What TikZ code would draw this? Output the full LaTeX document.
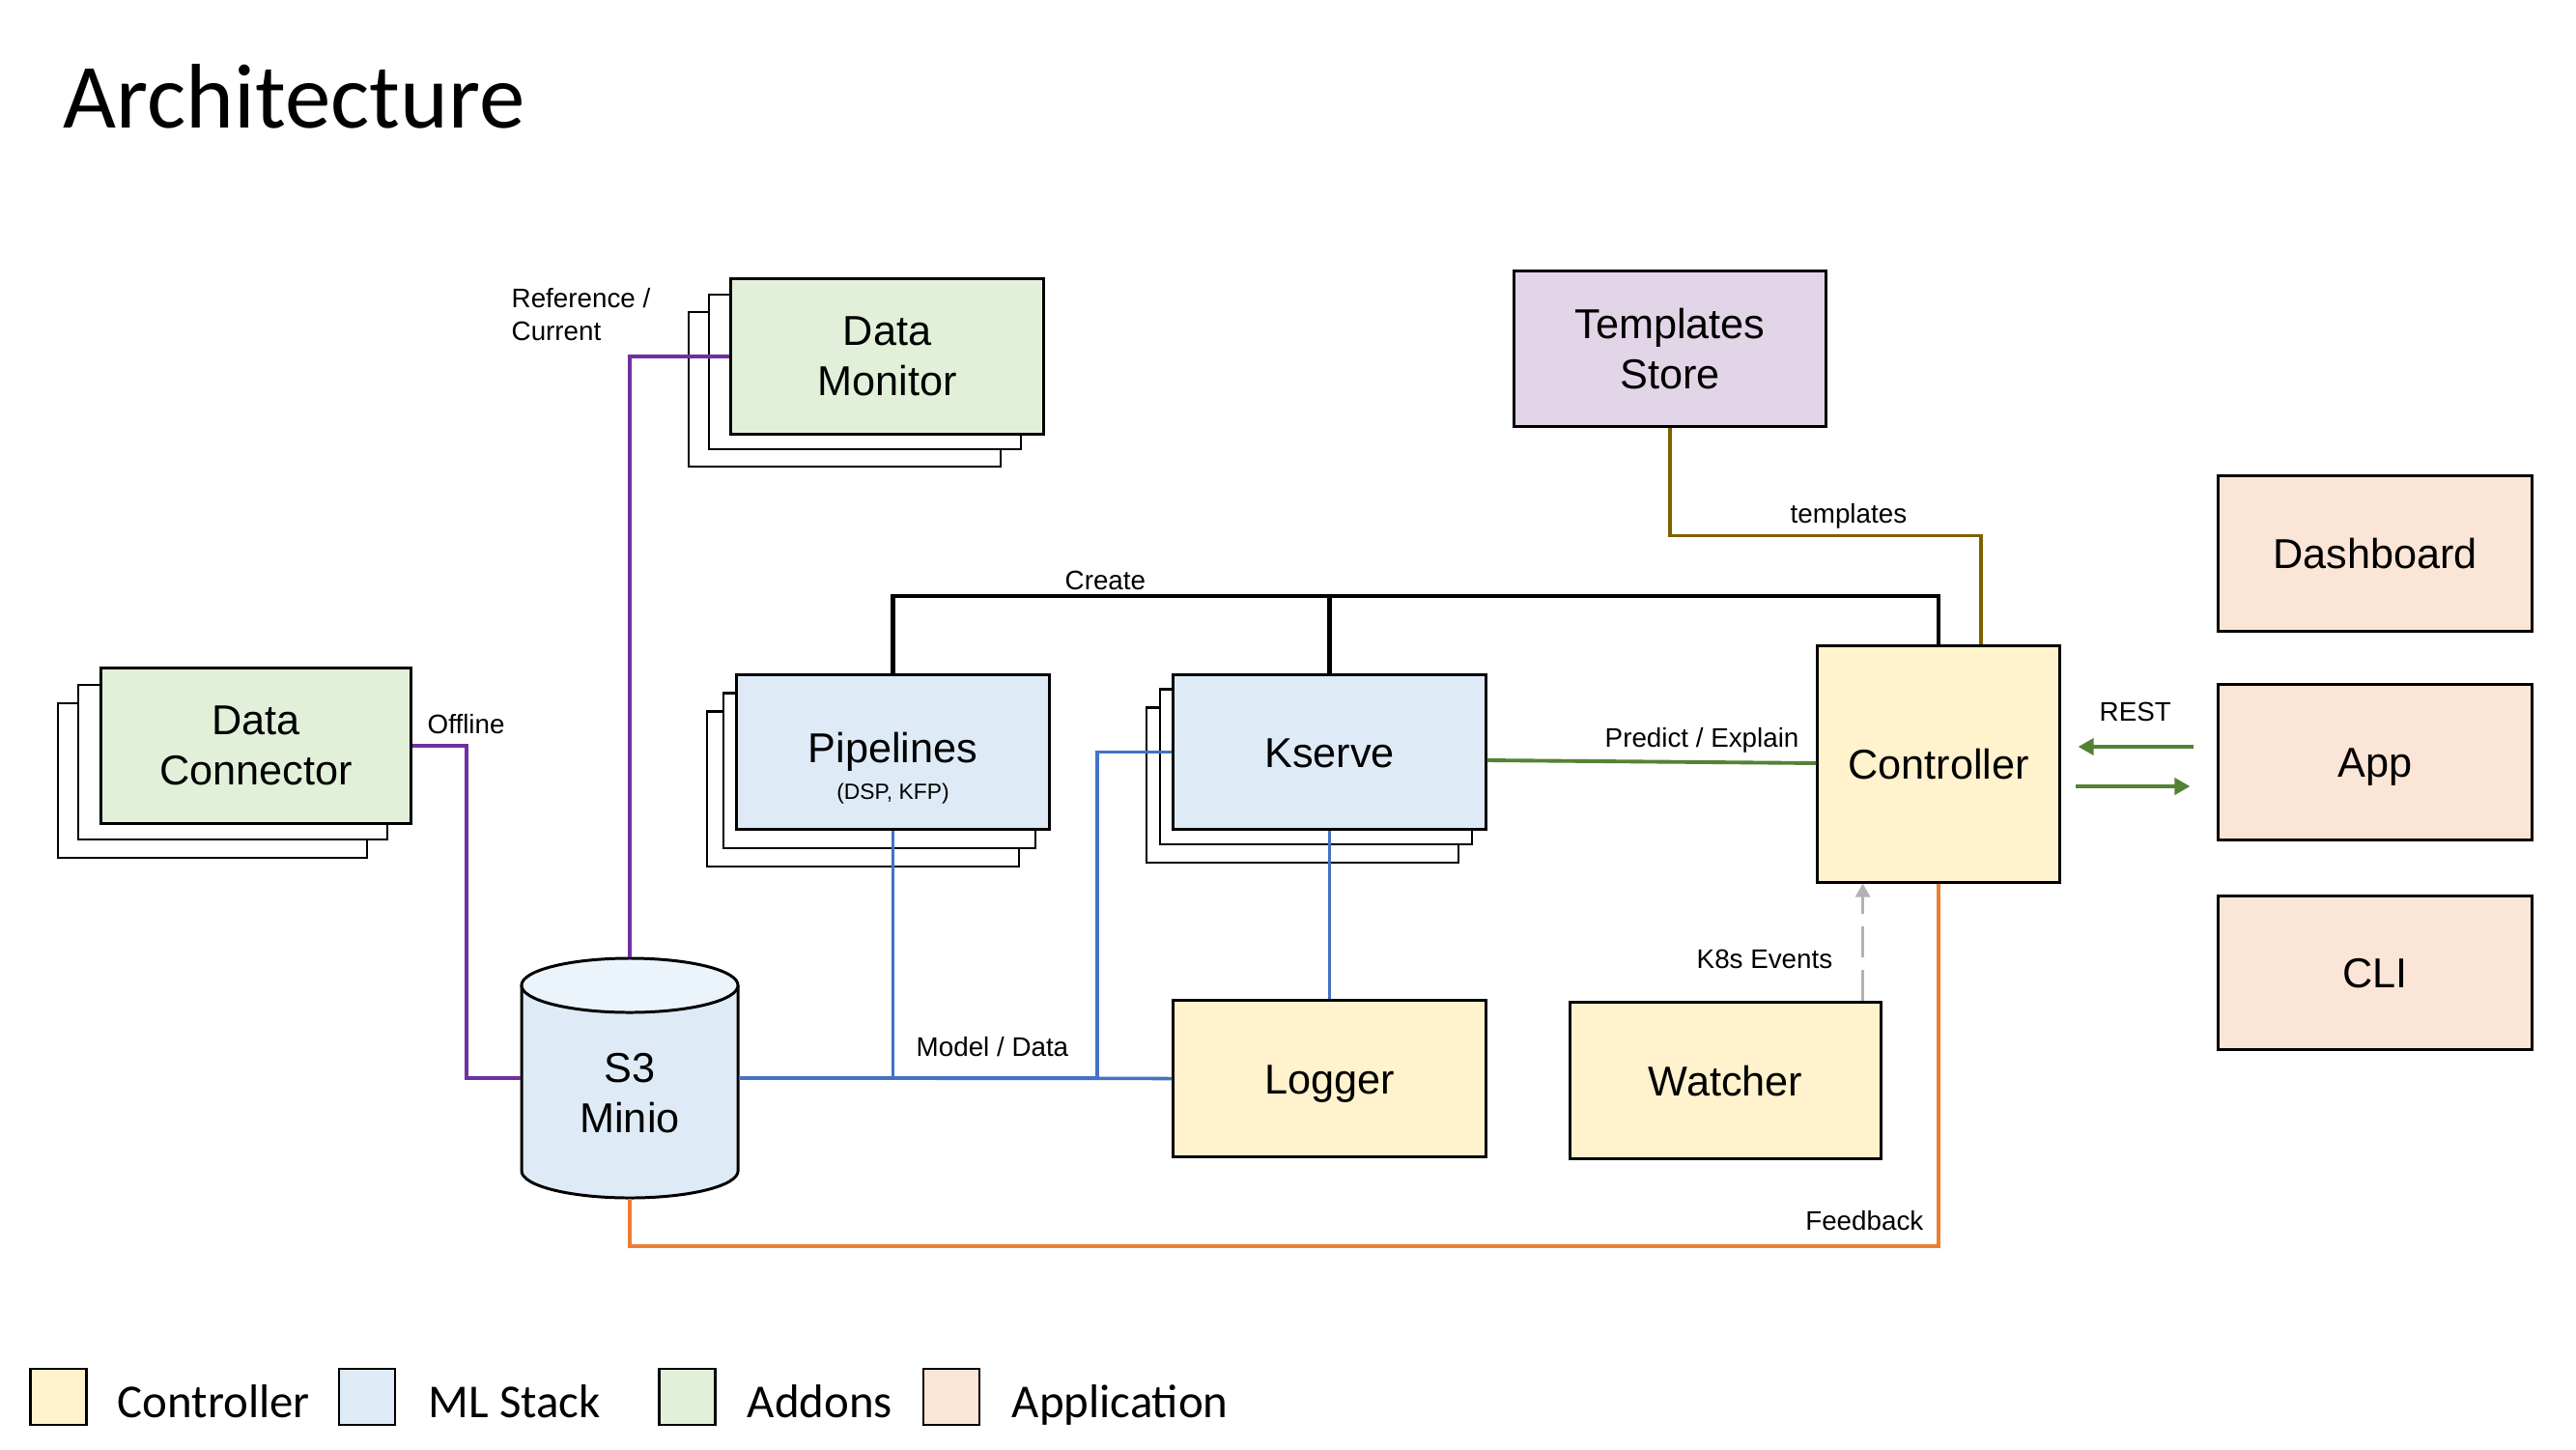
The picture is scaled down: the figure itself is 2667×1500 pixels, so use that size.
\documentclass[tikz,border=0pt]{standalone}
\usepackage{fontspec}
\setmainfont{Liberation Sans}
\newfontfamily\calfont{Carlito}
\usetikzlibrary{arrows.meta,shadows}

\definecolor{ctrlfill}{HTML}{FFF2CC}
\definecolor{mlfill}{HTML}{DEEBF7}
\definecolor{mltop}{HTML}{EBF3FB}
\definecolor{addfill}{HTML}{E2F0D9}
\definecolor{appfill}{HTML}{FBE5D6}
\definecolor{tplfill}{HTML}{E1D5E7}
\definecolor{refpurple}{HTML}{7030A0}
\definecolor{mlblue}{HTML}{4472C4}
\definecolor{fborange}{HTML}{ED7D31}
\definecolor{tplbrown}{HTML}{7F6000}
\definecolor{restgreen}{HTML}{548235}
\definecolor{k8sgray}{HTML}{B3B3B3}

\begin{document}
\begin{tikzpicture}[x=0.01cm, y=-0.01cm,
	box/.style={draw, line width=0.85pt, inner sep=0pt, align=center, minimum width=3.23cm, minimum height=1.6cm, font=\fontsize{12.3}{14.8}\selectfont},
	oneline/.style={text height=0.31cm, text depth=0pt},
	stack/.style n args={4}{copy shadow={shadow xshift=#3, shadow yshift=#4, fill=white, draw=black, line width=0.6pt}, copy shadow={shadow xshift=#1, shadow yshift=#2, fill=white, draw=black, line width=0.6pt}},
	lbl/.style={inner sep=0pt, font=\fontsize{7.9}{9.7}\selectfont},
	swatch/.style={draw, line width=0.7pt, minimum width=0.58cm, minimum height=0.58cm, inner sep=0pt},
	legend/.style={inner sep=0pt, font=\calfont\fontsize{13.9}{16}\selectfont},
	refline/.style={draw=refpurple, line width=1.15pt},
	mlline/.style={draw=mlblue, line width=1.0pt},
	createline/.style={draw=black, line width=1.4pt},
	tplline/.style={draw=tplbrown, line width=1.1pt},
	predline/.style={draw=restgreen, line width=1.1pt},
	restarr/.style={draw=restgreen, line width=1.1pt, -{Triangle[length=0.16cm,width=0.17cm]}},
	k8sline/.style={draw=k8sgray, line width=1.0pt, dash pattern=on 0.32cm off 0.13cm, -{Triangle[length=0.14cm,width=0.15cm]}},
	fbline/.style={draw=fborange, line width=1.1pt}]
	\path[use as bounding box, fill=white] (0,0) rectangle (2667,1500);

	\node[anchor=base west, inner sep=0pt, font=\calfont\fontsize{27}{30}\selectfont] (title) at (65,133) {Architecture};

	\node[box, fill=addfill, stack={-0.23cm}{-0.16cm}{-0.44cm}{-0.34cm}] (DM) at (918.5,369) {Data\\Monitor};
	\node[box, fill=addfill, minimum width=3.2cm, stack={-0.24cm}{-0.17cm}{-0.45cm}{-0.36cm}] (DC) at (265,772) {Data\\Connector};
	\node[box, fill=mlfill, stack={-0.14cm}{-0.19cm}{-0.31cm}{-0.38cm}, label={[font=\fontsize{6.5}{8}\selectfont, anchor=base, yshift=-0.435cm]center:{(DSP, KFP)}}] (Pipe) at (924.5,778.5) {Pipelines};
	\node[box, oneline, fill=mlfill, stack={-0.14cm}{-0.15cm}{-0.28cm}{-0.34cm}] (KS) at (1376.5,778.5) {Kserve};
	\node[box, fill=tplfill, minimum width=3.22cm] (TS) at (1729,361) {Templates\\Store};
	\node[box, oneline, fill=ctrlfill, minimum width=2.5cm, minimum height=2.44cm] (Ctrl) at (2007,791) {Controller};
	\node[box, oneline, fill=appfill, minimum width=3.24cm] (Dash) at (2459,573) {Dashboard};
	\node[box, oneline, fill=appfill, minimum width=3.24cm] (App) at (2459,789) {App};
	\node[box, oneline, fill=appfill, minimum width=3.24cm, minimum height=1.58cm] (CLI) at (2459,1007) {CLI};
	\node[box, oneline, fill=ctrlfill, minimum height=1.61cm] (Log) at (1376.5,1116.5) {Logger};
	\node[box, oneline, fill=ctrlfill, minimum width=3.21cm, minimum height=1.61cm] (Watch) at (1786.5,1118.5) {Watcher};

	\filldraw[fill=mlfill, line width=0.85pt] (540,1020) -- (540,1212) arc[start angle=180, end angle=360, x radius=1.12cm, y radius=0.28cm] -- (764,1020);
	\filldraw[fill=mltop, line width=0.85pt] (652,1020) ellipse[x radius=1.12cm, y radius=0.28cm];
	\node[inner sep=0pt, minimum width=2.24cm, minimum height=2.48cm, label={[align=center, font=\fontsize{12.3}{14.8}\selectfont, yshift=-0.16cm]center:{S3\\Minio}}] (S3) at (652,1116) {};

	\draw[createline] (Pipe.north) -- ++(0,-80) -| (Ctrl.north);
	\draw[createline] (KS.north) -- ++(0,-80);
	\draw[tplline] (TS.south) -- ++(0,112) -| ([xshift=0.44cm]Ctrl.north);
	\draw[refline] (S3.north) |- (DM.west);
	\draw[refline] (DC.east) -- ++(56,0) |- (S3.west);
	\draw[mlline] (S3.east) -| (Pipe.south);
	\draw[mlline] (S3.east) -- ++(371,0) |- (KS.west);
	\draw[mlline] (S3.east) -- (Log.west);
	\draw[mlline] (KS.south) -- (Log.north);
	\draw[predline] ([yshift=-0.085cm]KS.east) -- ([yshift=0.01cm]Ctrl.west);
	\draw[restarr, shorten <=0.24cm, shorten >=0.18cm] (App.west |- 0,773) -- (Ctrl.east |- 0,773);
	\draw[restarr, shorten <=0.15cm, shorten >=0.28cm] (Ctrl.east |- 0,814) -- (App.west |- 0,814);
	\coordinate (k8s) at ([xshift=-0.2cm]Watch.north east);
	\draw[k8sline] (k8s) -- (k8s |- Ctrl.south);
	\draw[fbline] (Ctrl.south) -- ++(0,375) -| (S3.south);

	\node[lbl, anchor=north west, align=left] (refLbl) at (529,298) {Reference /\\Current};
	\node[lbl, anchor=base west] (offLbl) at (442,759) {Offline};
	\node[lbl, anchor=base west] (createLbl) at (1102,610) {Create};
	\node[lbl, anchor=base west] (tplLbl) at (1853,541) {templates};
	\node[lbl, anchor=base west] (predLbl) at (1661,773) {Predict / Explain};
	\node[lbl, anchor=base west] (restLbl) at (2173,746) {REST};
	\node[lbl, anchor=base west] (k8sLbl) at (1756,1002) {K8s Events};
	\node[lbl, anchor=base west] (mdLbl) at (948,1093) {Model / Data};
	\node[lbl, anchor=base east] (fbLbl) at (1992,1273) {Feedback};

	\node[swatch, fill=ctrlfill] (L1) at (60.5,1446) {};
	\node[legend, anchor=base west] (T1) at (121,1467) {Controller};
	\node[swatch, fill=mlfill] (L2) at (380,1446) {};
	\node[legend, anchor=base west] (T2) at (443,1467) {ML Stack};
	\node[swatch, fill=addfill] (L3) at (711.5,1446) {};
	\node[legend, anchor=base west] (T3) at (773,1467) {Addons};
	\node[swatch, fill=appfill] (L4) at (985,1446) {};
	\node[legend, anchor=base west] (T4) at (1047,1467) {Application};
\end{tikzpicture}
\end{document}
